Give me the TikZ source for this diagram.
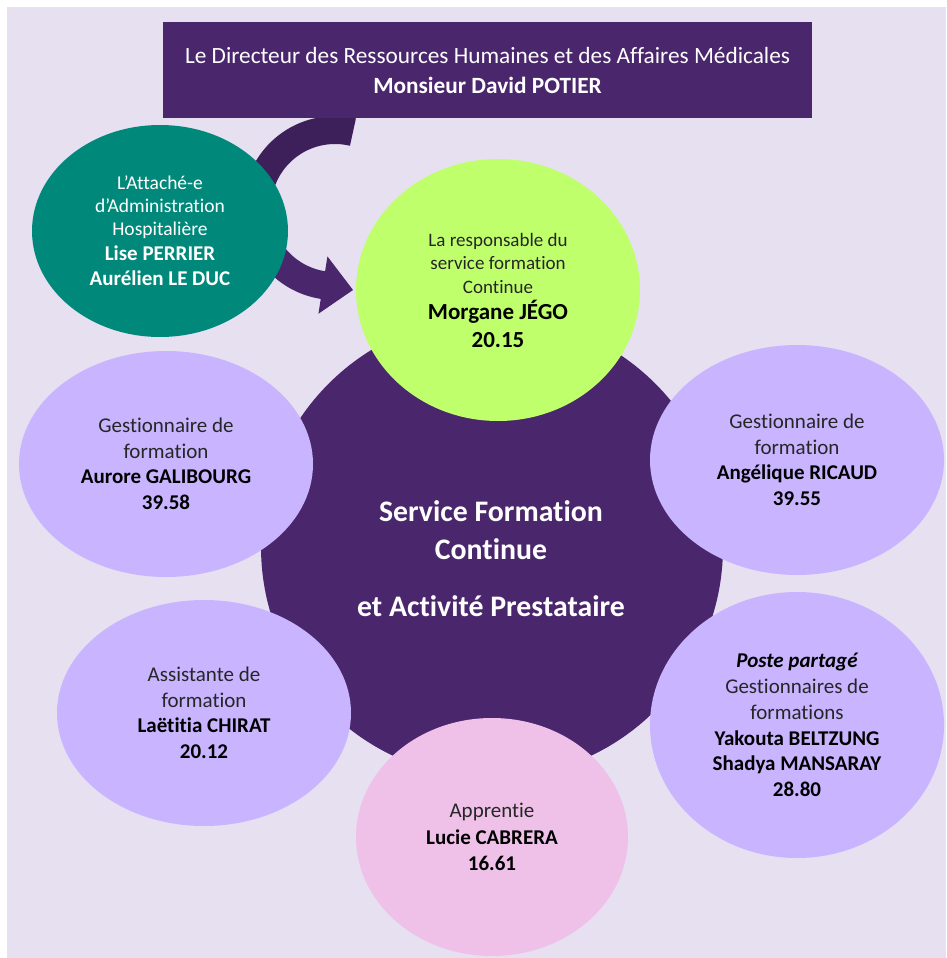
\documentclass[tikz,border=0pt]{standalone}
\usepackage{fontspec}
\setmainfont{Carlito}[Ligatures={NoCommon,NoContextual}]
\usetikzlibrary{shapes.geometric}
\definecolor{bgl}{HTML}{E6E0F1}
\definecolor{dpurp}{HTML}{4A266C}
\definecolor{dpurpdark}{HTML}{3D1F59}
\definecolor{tealg}{HTML}{00897A}
\definecolor{limeg}{HTML}{C0FF6C}
\definecolor{lilac}{HTML}{C9B4FF}
\definecolor{pinkl}{HTML}{EFC1E9}
\definecolor{txtg}{HTML}{262626}
\newcommand\szset[2]{\fontsize{#1}{#2}\selectfont}
\begin{document}
\begin{tikzpicture}[x=1pt,y=-1pt,
  blob/.style={ellipse, inner sep=0pt, align=center, draw=none},
  lil/.style={blob, fill=lilac, text=txtg, font=\szset{21}{25.5}}]
\useasboundingbox (0,0) rectangle (946,958);
\fill[white] (0,0) rectangle (946,958);
\fill[bgl] (7,7) rectangle (946,958);

% central circle
\node[circle, fill=dpurp, minimum size=462pt, inner sep=0pt] (svc) at (492,547) {};
\node[text=white, align=center, font=\bfseries\szset{29.8}{38}] (svct) at (491,559)
  {Service Formation\\Continue\\[19pt]et Activité Prestataire};

% curved arrow
\coordinate (arrowtail) at ({335+78*cos(-76.7)},{208+78*sin(-76.7)});
\coordinate (arrowtip) at (353,290);
\draw[dpurpdark, line width=28pt] plot[domain=-76.7:-200, samples=60] ({335+78*cos(\x)},{208+78*sin(\x)});
\draw[dpurp, line width=28pt] plot[domain=-195:-261.5, samples=40] ({335+78*cos(\x)},{208+78*sin(\x)});
\fill[dpurp] ({335+49*cos(98.9)},{208+49*sin(98.9)}) -- (arrowtip) -- ({335+107*cos(98.9)},{208+107*sin(98.9)}) -- cycle;

% director banner
\node[rectangle, fill=dpurp, minimum width=649pt, minimum height=96pt, inner sep=0pt,
  text=white, align=center, font=\szset{23.3}{30}] (dir) at (487.5,70)
  {Le Directeur des Ressources Humaines et des Affaires Médicales\\{\bfseries Monsieur David POTIER}};

% attaché
\node[blob, fill=tealg, minimum width=256pt, minimum height=212pt, text=white, font=\szset{19.5}{23}] (aah) at (160,231)
  {L’Attaché-e\\d’Administration\\Hospitalière\\[2pt]{\bfseries\szset{21}{25}Lise PERRIER}\\[2pt]{\bfseries\szset{21}{25}Aurélien LE DUC}};

% responsable
\node[blob, fill=limeg, minimum width=284pt, minimum height=262pt, text=txtg, font=\szset{19}{23.5}] (resp) at (498,290)
  {La responsable du\\service formation\\Continue\\[3pt]{\color{black}\bfseries\szset{23}{26}Morgane JÉGO}\\[4pt]{\color{black}\bfseries\szset{23}{26}20.15}};

% gestionnaires
\node[lil, minimum width=294pt, minimum height=226pt] (gal) at (166,464)
  {Gestionnaire de\\formation\\{\color{black}\bfseries Aurore GALIBOURG}\\{\color{black}\bfseries 39.58}};
\node[lil, minimum width=294pt, minimum height=230pt] (ric) at (797,460)
  {Gestionnaire de\\formation\\{\color{black}\bfseries Angélique RICAUD}\\{\color{black}\bfseries 39.55}};
\node[lil, minimum width=294pt, minimum height=226pt] (chi) at (204,713)
  {Assistante de\\formation\\{\color{black}\bfseries Laëtitia CHIRAT}\\{\color{black}\bfseries 20.12}};
\node[lil, minimum width=294pt, minimum height=266pt, font=\szset{21}{25.7}] (bel) at (797,725)
  {{\color{black}\bfseries\itshape Poste partagé}\\Gestionnaires de\\formations\\{\color{black}\bfseries Yakouta BELTZUNG}\\{\color{black}\bfseries Shadya MANSARAY}\\{\color{black}\bfseries 28.80}};

% apprentie
\node[blob, fill=pinkl, minimum width=272pt, minimum height=238pt, text=txtg, font=\szset{21}{26.5}] (cab) at (492,837)
  {Apprentie\\{\color{black}\bfseries Lucie CABRERA}\\{\color{black}\bfseries 16.61}};
\end{tikzpicture}
\end{document}
